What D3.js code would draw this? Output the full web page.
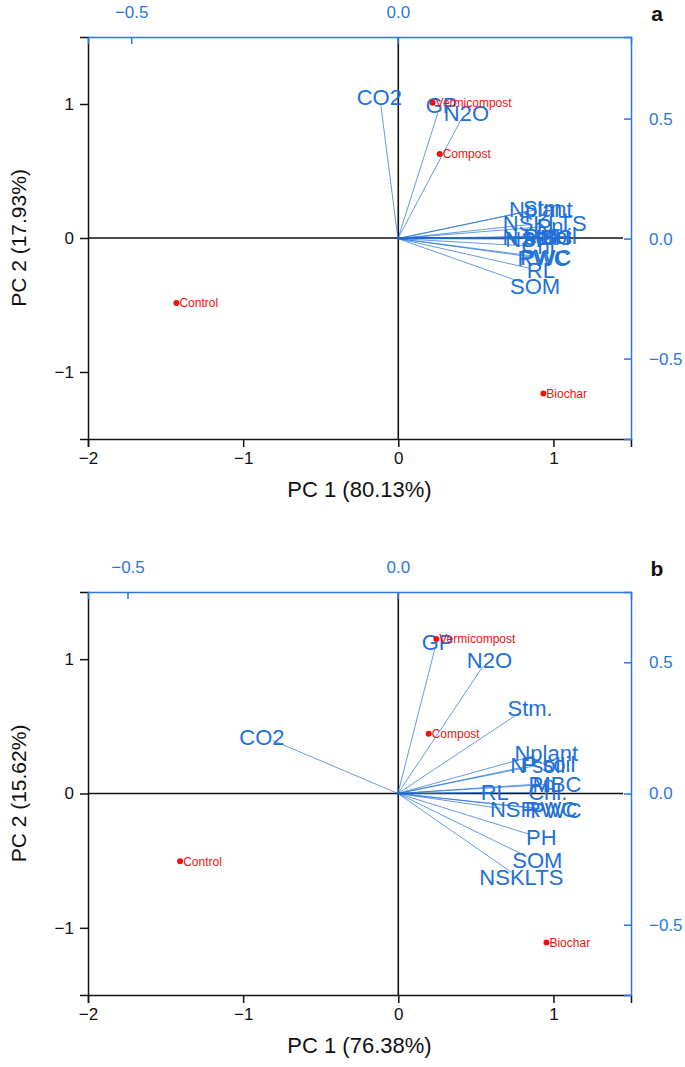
<!DOCTYPE html>
<html><head><meta charset="utf-8">
<script src="https://cdn.jsdelivr.net/npm/d3@7"></script>
<style>body{margin:0;background:#fff}svg{display:block;font-family:"Liberation Sans",Arial,sans-serif}</style>
</head><body><svg id="c" width="685" height="1067"></svg>
<script>
// ---- data ----
const variables = ["GP","N2O","CO2","Stm.","Nplant","N soil","P soil","Pn","MBC","Chl.","RL","NSP","RWC","PWC","PH","SOM","NSKLTS"];
const samples = ["Control","Compost","Vermicompost","Biochar"];
// panel a
const scoresA_PC1 = [-1.43, 0.267, 0.221, 0.935];
const scoresA_PC2 = [-0.485, 0.627, 1.01, -1.16];
const loadA_PC1 = [0.075,0.118,-0.032,0.255,0.246,0.225,0.263,0.263,0.259,0.246,0.246,0.221,0.251,0.255,0.272,0.236,0.253];
const loadA_PC2 = [0.524,0.494,0.556,0.119,0.115,0.006,0.010,0.048,0.006,-0.031,-0.123,-0.002,-0.077,-0.073,0.006,-0.185,0.060];
// panel b
const scoresB_PC1 = [-1.406, 0.196, 0.245, 0.955];
const scoresB_PC2 = [-0.504, 0.444, 1.15, -1.11];
const loadB_PC1 = [0.068,0.157,-0.231,0.226,0.253,0.237,0.257,0.244,0.272,0.255,0.157,0.19,0.261,0.27,0.244,0.238,0.21];
const loadB_PC2 = [0.549,0.484,0.202,0.309,0.145,0.103,0.107,0.034,0.034,0.004,0.004,-0.057,-0.057,-0.061,-0.156,-0.24,-0.30];
// axis ticks
const scoreXTicks = [-2,-1,0,1];
const scoreYTicks = [-1,0,1];
const loadXTicks = [-0.5,0.0];
const loadYTicks = [-0.5,0.0,0.5];
const panels = [
  {tag:"a", xTitle:"PC 1 (80.13%)", yTitle:"PC 2 (17.93%)", s1:scoresA_PC1, s2:scoresA_PC2, l1:loadA_PC1, l2:loadA_PC2,
   top:37, bottom:439, lx:[-0.581,0.437], ly:[-0.835,0.84]},
  {tag:"b", xTitle:"PC 1 (76.38%)", yTitle:"PC 2 (15.62%)", s1:scoresB_PC1, s2:scoresB_PC2, l1:loadB_PC1, l2:loadB_PC2,
   top:592, bottom:995, lx:[-0.573,0.431], ly:[-0.768,0.768]}
];

const svg = d3.select("#c");
const L = 88, R = 631;
const BLUE = "#2170d9", AXBLUE = "#2a78de", RED = "#ee1111";

panels.forEach(p => {
  const g = svg.append("g");
  const x = d3.scaleLinear().domain([-2,1.5]).range([L,R]);
  const y = d3.scaleLinear().domain([-1.5,1.5]).range([p.bottom,p.top]);
  const lx = d3.scaleLinear().domain(p.lx).range([L,R]);
  const ly = d3.scaleLinear().domain(p.ly).range([p.bottom,p.top]);

  // zero lines
  g.append("line").attr("x1",L).attr("x2",R-8).attr("y1",y(0)).attr("y2",y(0)).attr("stroke","#111").attr("stroke-width",1.6);
  g.append("line").attr("x1",x(0)).attr("x2",x(0)).attr("y1",p.top).attr("y2",p.bottom).attr("stroke","#111").attr("stroke-width",1.6);

  // loading vectors
  const vec = variables.map((v,i)=>({v, a:p.l1[i], b:p.l2[i]}));
  g.selectAll(".vec").data(vec).join("line")
    .attr("x1",lx(0)).attr("y1",ly(0))
    .attr("x2",d=>lx(d.a)).attr("y2",d=>ly(d.b))
    .attr("stroke",BLUE).attr("stroke-width",0.7);
  g.selectAll(".vl").data(vec).join("text")
    .attr("font-size",22).attr("fill",BLUE).attr("text-anchor","middle")
    .each(function(d){
      const ex = lx(d.a), ey = ly(d.b);
      const dx = ex - lx(0), dy = ly(0) - ey;
      const n = Math.hypot(dx,dy)||1, ux = dx/n, uy = dy/n;
      d3.select(this).attr("x", ex + 12*ux).attr("y", ey + 7.9 - 7.9*uy);
    })
    .text(d=>d.v);

  // sample scores
  const pts = samples.map((s,i)=>({s, a:p.s1[i], b:p.s2[i]}));
  g.selectAll(".pt").data(pts).join("circle")
    .attr("cx",d=>x(d.a)).attr("cy",d=>y(d.b)).attr("r",3).attr("fill",RED);
  g.selectAll(".pl").data(pts).join("text")
    .attr("x",d=>x(d.a)+3).attr("y",d=>y(d.b)).attr("dy","0.36em")
    .attr("font-size",12).attr("fill",RED).text(d=>d.s);

  // bottom axis (black)
  const xb = g.append("g").attr("transform",`translate(0,${p.bottom})`);
  xb.call(d3.axisBottom(x).tickValues(d3.range(-2,1.51,0.5)).tickSize(4).tickFormat(""));
  xb.call(d3.axisBottom(x).tickValues(scoreXTicks).tickSize(8).tickPadding(5).tickFormat(d3.format("d")));
  xb.selectAll("text").attr("font-size",17).attr("fill","#111").attr("font-family","Liberation Sans, Arial, sans-serif");
  xb.selectAll("path,line").attr("stroke","#111").attr("stroke-width",1.5);
  // left axis (black)
  const yl = g.append("g").attr("transform",`translate(${L},0)`);
  yl.call(d3.axisLeft(y).tickValues(d3.range(-1.5,1.51,0.5)).tickSize(4).tickFormat(""));
  yl.call(d3.axisLeft(y).tickValues(scoreYTicks).tickSize(8).tickPadding(6).tickFormat(d3.format("d")));
  yl.selectAll("text").attr("font-size",17).attr("fill","#111").attr("font-family","Liberation Sans, Arial, sans-serif");
  yl.selectAll("path,line").attr("stroke","#111").attr("stroke-width",1.5);
  // top axis (blue, loadings)
  const xt = g.append("g").attr("transform",`translate(0,${p.top})`);
  xt.call(d3.axisTop(lx).tickValues([-0.5,-0.25,0,0.25]).tickSize(-6).tickFormat(""));
  xt.call(d3.axisTop(lx).tickValues(loadXTicks).tickSize(-7).tickPadding(19).tickFormat(d3.format(".1f")));
  xt.selectAll("text").attr("font-size",17).attr("fill",AXBLUE).attr("font-family","Liberation Sans, Arial, sans-serif");
  xt.selectAll("path,line").attr("stroke",AXBLUE).attr("stroke-width",1.5);
  // right axis (blue, loadings)
  const yr = g.append("g").attr("transform",`translate(${R},0)`);
  yr.call(d3.axisRight(ly).tickValues([-0.75,-0.5,-0.25,0,0.25,0.5,0.75]).tickSize(-7).tickFormat(""));
  yr.call(d3.axisRight(ly).tickValues(loadYTicks).tickSize(-7).tickPadding(18).tickFormat(d3.format(".1f")));
  yr.selectAll("text").attr("font-size",17).attr("fill",AXBLUE).attr("font-family","Liberation Sans, Arial, sans-serif");
  yr.selectAll("path,line").attr("stroke",AXBLUE).attr("stroke-width",1.5);

  // titles
  g.append("text").attr("x",(L+R)/2).attr("y",p.bottom+58).attr("text-anchor","middle")
    .attr("font-size",22).attr("fill","#111").text(p.xTitle);
  g.append("text").attr("transform",`translate(26,${(p.top+p.bottom)/2}) rotate(-90)`).attr("text-anchor","middle")
    .attr("font-size",21).attr("fill","#111").text(p.yTitle);
  g.append("text").attr("x",657).attr("y",p.top-16).attr("text-anchor","middle")
    .attr("font-size",21).attr("font-weight","bold").attr("fill","#111").text(p.tag);
});
</script></body></html>
